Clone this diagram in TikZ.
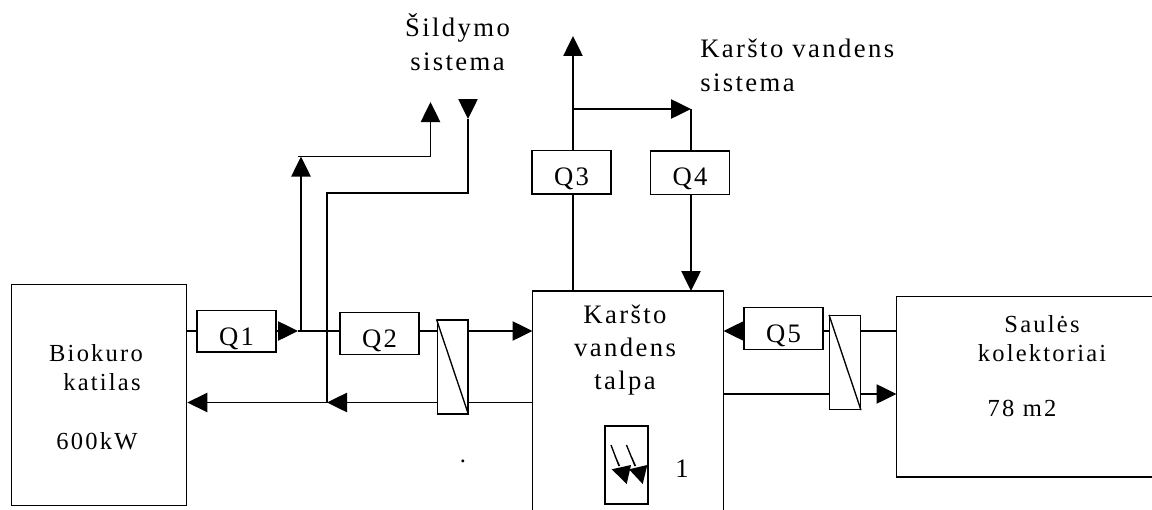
\documentclass[tikz,border=0pt]{standalone}
\usepackage{fontspec}
\setmainfont{Liberation Serif}[LetterSpace=9]
\usetikzlibrary{arrows.meta}
\tikzset{
  wire/.style={line width=1pt,line cap=butt},
  tip/.style={wire,-{Triangle[length=15pt,width=14.5pt]}},
  lbl/.style={anchor=base,inner sep=0pt,font=\fontsize{18.4pt}{20pt}\selectfont},
  big/.style={anchor=base,inner sep=0pt,font=\fontsize{20pt}{22pt}\selectfont},
  qbox/.style={draw,line width=1pt,inner sep=0pt,anchor=base,minimum width=59.25pt,
    text height=26pt,text depth=#1,font=\fontsize{20pt}{22pt}\selectfont},
  hxbox/.style={draw,line width=1pt,inner sep=0pt,minimum width=23pt,minimum height=70.5pt},
  plainbox/.style={draw,line width=1pt,inner sep=0pt,anchor=north west},
}
\begin{document}
\begin{tikzpicture}[x=0.75pt,y=-0.75pt]
\useasboundingbox (0,0) rectangle (1152,510);
% main blocks
\node[plainbox,minimum width=131.25pt,minimum height=165.75pt] (bio) at (11,284) {};
\node[lbl] (bioa) at (96,361) {Biokuro};
\node[lbl] (biob) at (102,390) {katilas};
\node[lbl] (bioc) at (97,449) {600kW};
% tank (open at the bottom edge)
\coordinate (tanktl) at (532.5,291);
\coordinate (tanktr) at (723.5,291);
\coordinate (tankbl) at (532.5,510);
\coordinate (tankbr) at (723.5,510);
\draw[wire] (tankbl) -- (tanktl) -- (tanktr) -- (tankbr);
\node[big] (tanka) at (625,323) {Karšto};
\node[big] (tankb) at (625,356) {vandens};
\node[big] (tankc) at (625,389) {talpa};
% collectors (open at the right edge)
\coordinate (soltl) at (896.5,296.5);
\coordinate (soltr) at (1152,296.5);
\coordinate (solbl) at (896.5,477);
\coordinate (solbr) at (1152,477);
\draw[wire] (soltr) -- (soltl) -- (solbl) -- (solbr);
\node[lbl] (sola) at (1042,332) {Saulės};
\node[lbl] (solb) at (1042,361) {kolektoriai};
\node[lbl] (solc) at (1022,416) {78 m2};
% Q boxes
\node[qbox=5.25pt] (q1) at (236.5,345) {Q1};
\node[qbox=5.6pt] (q2) at (379.5,347) {Q2};
\node[qbox=6.75pt] (q3) at (571.5,185) {Q3};
\node[qbox=6.75pt] (q4) at (690,185.5) {Q4};
\node[qbox=5.6pt] (q5) at (783.5,342) {Q5};
% heat exchangers
\node[hxbox] (hxa) at (452.5,367) {};
\node[hxbox] (hxb) at (845,362.5) {};
\draw[wire] (hxa.north west) -- (hxa.south east);
\draw[wire] (hxb.north west) -- (hxb.south east);
% system labels
\node[big] (sila) at (457.5,37) {Šildymo};
\node[big] (silb) at (457.5,70) {sistema};
\node[big,anchor=base west] (kara) at (700,58) {Karšto vandens};
\node[big,anchor=base west] (karb) at (700,92) {sistema};
% heating element
\node[draw,line width=1pt,inner sep=0pt,minimum width=32.25pt,minimum height=58.5pt] (el) at (626.5,465) {};
\node[big] (elno) at (682,477) {1};
\node[lbl] (dot) at (463,462.5) {.};
\draw[line width=1pt] (611,445) -- (619,466) (615,456) -- (619.5,466);
\draw[line width=1pt] (626.5,445) -- (635,466) (631,456) -- (635.5,466);
\fill (626.7,484) -- (611.7,469.3) -- (631,465) -- cycle;
\fill (642.7,484) -- (629,469.3) -- (647.3,465) -- cycle;
% junction coordinates
\coordinate (up) at (0,331);
\coordinate (lo) at (0,402.5);
\coordinate (jsup) at (301,331);
\coordinate (jret) at (327,331);
\coordinate (jlow) at (327,402.5);
\coordinate (a1end) at (298,331);
\coordinate (hh) at (0,156.5);
\coordinate (ret) at (0,193);
\coordinate (supout) at (430.5,102);
\coordinate (retout) at (468,119);
\coordinate (retin) at (468,103);
\coordinate (jq) at (573,109);
\coordinate (qtop) at (573,36);
\coordinate (jk) at (691,109);
% boiler loop
\draw[wire] (bio.east |- up) -- (q1.west |- up);
\draw[tip] (q1.east |- up) -- (a1end);
\draw[wire] (a1end) -- (q2.west |- up);
\draw[wire] (q2.east |- up) -- (hxa.west |- up);
\draw[tip] (hxa.east |- up) -- (tanktl |- up);
\draw[wire] (tanktl |- lo) -- (hxa.east |- lo);
\draw[tip] (hxa.west |- lo) -- (jlow);
\draw[tip] (jlow) -- (bio.east |- lo);
% heating supply and return
\draw[tip] (jsup) -- (jsup |- hh);
\draw[wire] (jsup |- hh) ++(-3,0) -- (supout |- hh);
\draw[tip] (supout |- hh) -- (supout);
\draw[wire] (jlow) -- (jret |- ret) -- (retout |- ret) -- (retout);
\draw[tip] (retin) -- (retout);
% hot water
\draw[tip] (q3.north -| jq) -- (qtop);
\draw[tip] (jq) -- (jk);
\draw[wire] (jk) -- (q4.north -| jk);
\draw[wire] (q3.south -| jq) -- (tanktl -| jq);
\draw[tip] (q4.south -| jk) -- (tanktl -| jk);
% solar loop
\draw[wire] (soltl |- up) -- (hxb.east |- up);
\draw[wire] (hxb.west |- up) -- (q5.east |- up);
\draw[tip] (q5.west |- up) -- (tanktr |- up);
\draw[wire] (tanktr |- 0,394) -- (hxb.west |- 0,394);
\draw[tip] (hxb.east |- 0,394) -- (soltl |- 0,394);
\end{tikzpicture}
\end{document}
